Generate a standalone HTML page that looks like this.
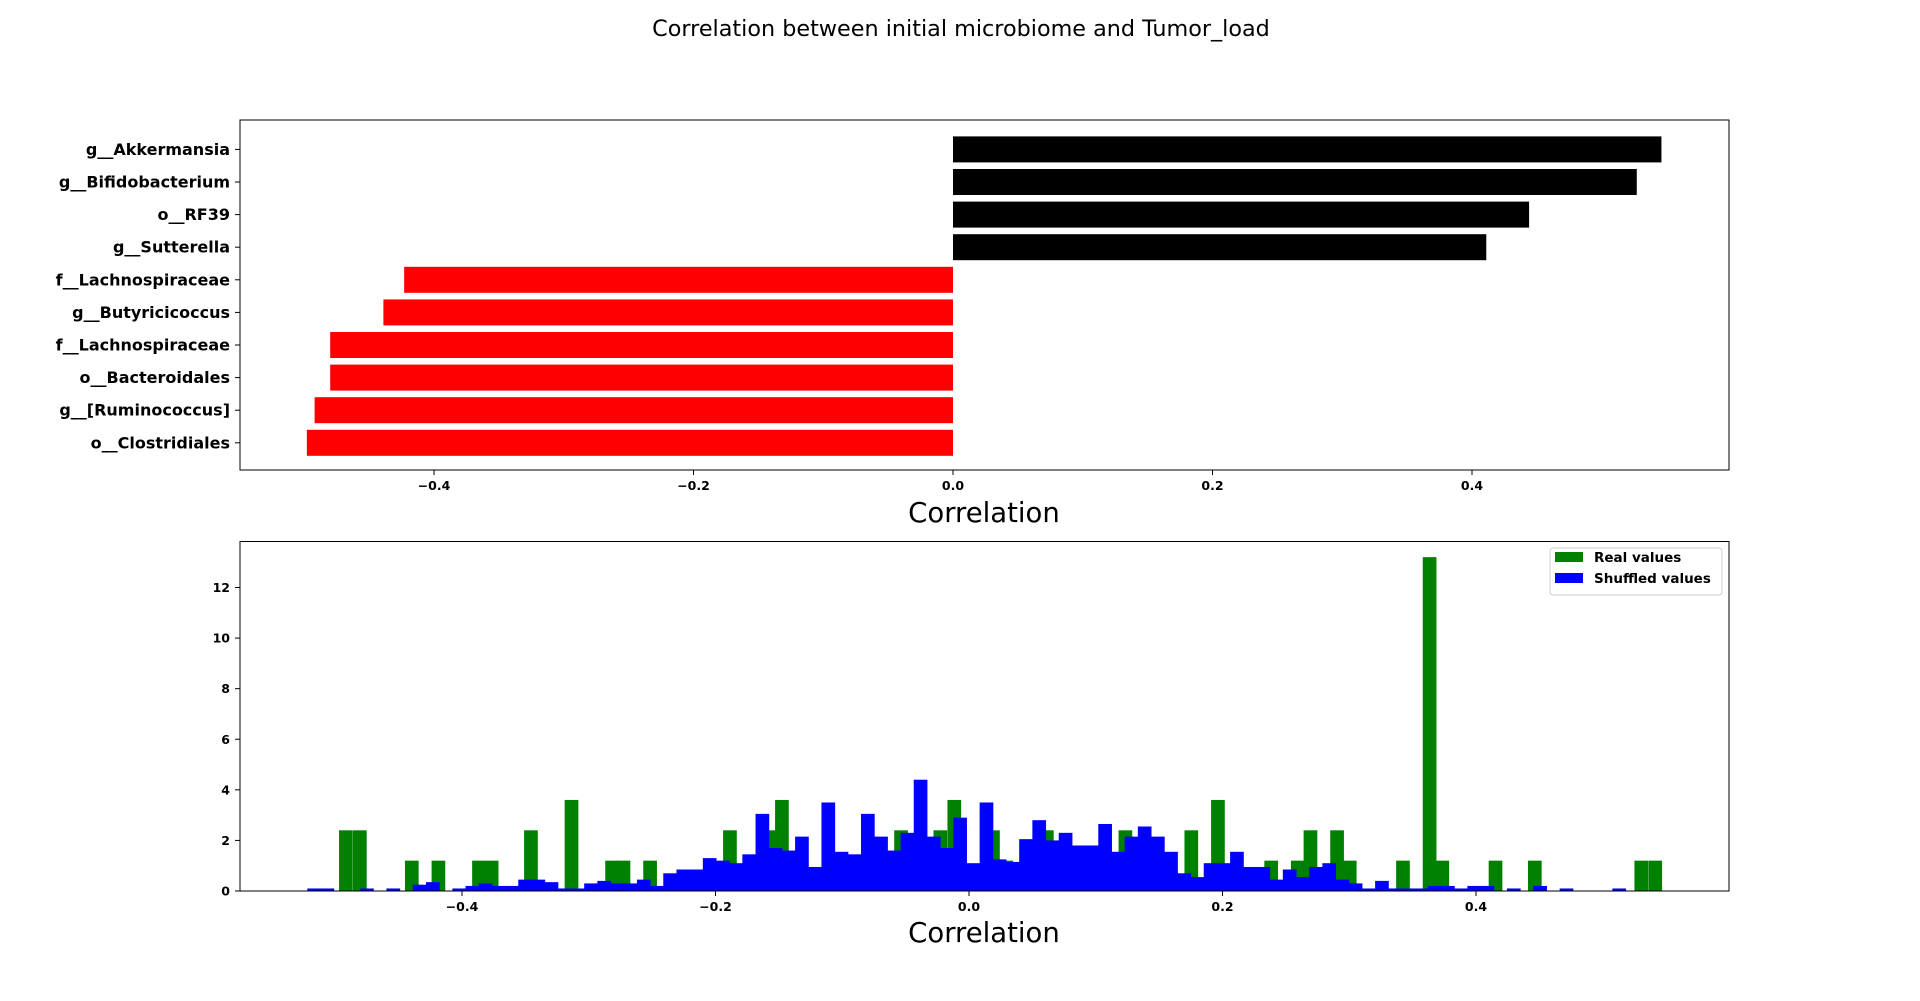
<!DOCTYPE html>
<html><head><meta charset="utf-8"><style>
html,body{margin:0;padding:0;background:#fff;width:1920px;height:1001px;overflow:hidden}
svg text{font-family:"DejaVu Sans","Liberation Sans",sans-serif}
</style></head><body>
<svg id="fig" width="1920" height="1001" xmlns="http://www.w3.org/2000/svg">
<text x="961" y="36" font-size="22.3" text-anchor="middle">Correlation between initial microbiome and Tumor_load</text>
<g id="topchart"></g>
<g id="botchart"></g>
</svg>
<script>
const barLabels=["g__Akkermansia","g__Bifidobacterium","o__RF39","g__Sutterella","f__Lachnospiraceae","g__Butyricicoccus","f__Lachnospiraceae","o__Bacteroidales","g__[Ruminococcus]","o__Clostridiales"];
const barValues=[0.546,0.527,0.444,0.411,-0.423,-0.439,-0.480,-0.480,-0.492,-0.498];
const topTicks=[-0.4,-0.2,0.0,0.2,0.4];
const botXTicks=[-0.4,-0.2,0.0,0.2,0.4];
const botYTicks=[0,2,4,6,8,10,12];
const shuffledStart=-0.522, shuffledWidth=0.0104;
const shuffledCounts=[.1,.1,0,0,.1,0,.1,0,.25,.35,0,.1,.2,.3,.2,.2,.45,.45,.35,.1,.1,.3,.4,.3,.3,.45,.2,.7,.85,.85,1.3,1.2,1.1,1.45,3.05,1.7,1.6,2.15,.95,3.5,1.55,1.45,3.05,2.15,1.6,2.3,4.4,2.15,1.7,2.9,1.1,3.5,1.25,1.15,2.05,2.8,2.0,2.3,1.8,1.8,2.65,1.55,2.15,2.55,2.15,1.55,.7,.55,1.1,1.1,1.55,.95,.95,.45,.85,.55,.95,1.1,.45,.3,.1,.4,.1,.1,.1,.2,.2,.1,.2,.2,0,.1,0,.2,0,.1,0,0,0,.1];
const realWidth=0.0104;
const realBinLeft=[-0.497,-0.486,-0.445,-0.424,-0.392,-0.382,-0.351,-0.319,-0.287,-0.278,-0.257,-0.194,-0.162,-0.153,-0.059,-0.028,-0.017,0.0135,0.024,0.056,0.118,0.150,0.170,0.191,0.233,0.254,0.264,0.285,0.295,0.337,0.358,0.368,0.410,0.441,0.525,0.536];
const realCounts=[2.4,2.4,1.2,1.2,1.2,1.2,2.4,3.6,1.2,1.2,1.2,2.4,2.4,3.6,2.4,2.4,3.6,2.4,1.2,2.4,2.4,1.2,2.4,3.6,1.2,1.2,2.4,2.4,1.2,1.2,13.2,1.2,1.2,1.2,1.2,1.2];

const NS="http://www.w3.org/2000/svg";
function mk(parent,tag,attrs,text){const e=document.createElementNS(NS,tag);for(const k in attrs)e.setAttribute(k,attrs[k]);if(text!==undefined)e.textContent=text;parent.appendChild(e);return e;}
function fmt(v){return (v<0?"\u2212":"")+Math.abs(v).toFixed(1);}

// top chart
const T={l:240,r:1729,t:120,b:470};
const tx=v=>953+v*(519/0.4);
const topG=document.getElementById('topchart');
const rowY=i=>149.4+i*32.6;
barValues.forEach((v,i)=>{
  const x0=tx(0),x1=tx(v);
  const r=mk(topG,'rect',{x:Math.min(x0,x1),y:rowY(i)-13,width:Math.abs(x1-x0),height:26,fill:v>=0?'#000':'#ff0000'});
  
  
  const t=mk(topG,'text',{x:T.l-10,y:rowY(i)+5.5,'font-size':16,'font-weight':'bold','text-anchor':'end'},barLabels[i]);
  
  
  mk(topG,'line',{x1:T.l-5,x2:T.l,y1:rowY(i),y2:rowY(i),stroke:'#000'});
});
const tf=mk(topG,'rect',{x:T.l,y:T.t,width:T.r-T.l,height:T.b-T.t,fill:'none',stroke:'#000','stroke-width':1});


topTicks.forEach(v=>{
  const x=tx(v);
  mk(topG,'line',{x1:x,x2:x,y1:T.b,y2:T.b+5,stroke:'#000'});
  const t=mk(topG,'text',{x:x,y:T.b+20,'font-size':12.5,'font-weight':'bold','text-anchor':'middle'},fmt(v));
  
  
});
const xt1=mk(topG,'text',{x:984,y:522,'font-size':27.5,'text-anchor':'middle'},'Correlation');



// bottom chart
const B={l:240,r:1729,t:541.5,b:891};
const bx=v=>969+v*(507/0.4);
const by=c=>B.b-c*(303.5/12);
const botG=document.getElementById('botchart');
realCounts.forEach((c,i)=>{
  const x0=bx(realBinLeft[i]),x1=bx(realBinLeft[i]+realWidth);
  const r=mk(botG,'rect',{x:x0,y:by(c),width:x1-x0+0.5,height:B.b-by(c),fill:'#008000'});
  
  
});
shuffledCounts.forEach((c,i)=>{
  if(c<=0)return;
  const x0=bx(shuffledStart+i*shuffledWidth),x1=bx(shuffledStart+(i+1)*shuffledWidth);
  const r=mk(botG,'rect',{x:x0,y:by(c),width:x1-x0+0.5,height:B.b-by(c),fill:'#0000ff'});
  
  
});
const bf=mk(botG,'rect',{x:B.l,y:B.t,width:B.r-B.l,height:B.b-B.t,fill:'none',stroke:'#000','stroke-width':1});


botXTicks.forEach(v=>{
  const x=bx(v);
  mk(botG,'line',{x1:x,x2:x,y1:B.b,y2:B.b+5,stroke:'#000'});
  const t=mk(botG,'text',{x:x,y:B.b+20,'font-size':12.5,'font-weight':'bold','text-anchor':'middle'},fmt(v));
  
  
});
botYTicks.forEach(v=>{
  const y=by(v);
  mk(botG,'line',{x1:B.l-5,x2:B.l,y1:y,y2:y,stroke:'#000'});
  const t=mk(botG,'text',{x:B.l-10,y:y+4.5,'font-size':12.5,'font-weight':'bold','text-anchor':'end'},String(v));
  
  
});
const xt2=mk(botG,'text',{x:984,y:942,'font-size':27.5,'text-anchor':'middle'},'Correlation');


// legend
const lg=mk(botG,'g',{});


mk(lg,'rect',{x:1550,y:548,width:172,height:47,rx:3,fill:'#fff',stroke:'#ccc'});
mk(lg,'rect',{x:1555,y:552,width:28,height:10,fill:'#008000'});
const l1=mk(lg,'text',{x:1594,y:562,'font-size':13.5,'font-weight':'bold'},'Real values');


mk(lg,'rect',{x:1555,y:573,width:28,height:10,fill:'#0000ff'});
const l2=mk(lg,'text',{x:1594,y:583,'font-size':13.5,'font-weight':'bold'},'Shuffled values');


</script>
</body></html>
